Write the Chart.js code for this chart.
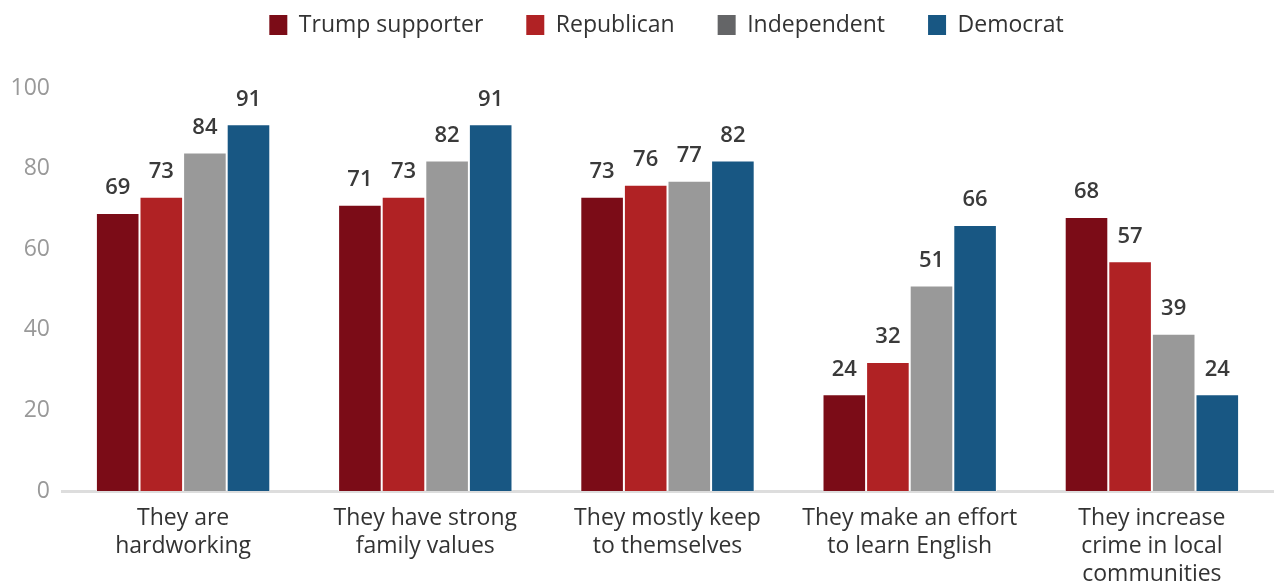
<!DOCTYPE html>
<html>
<head>
<meta charset="utf-8">
<script src="https://cdn.jsdelivr.net/npm/chart.js@4"></script>
<style>
  html, body { margin: 0; padding: 0; background: #fff; }
  #wrap { width: 1278px; height: 586px; }
</style>
</head>
<body>
<div id="wrap"><canvas id="chart"></canvas></div>
<script>
const categories = [
  ['They are', 'hardworking'],
  ['They have strong', 'family values'],
  ['They mostly keep', 'to themselves'],
  ['They make an effort', 'to learn English'],
  ['They increase', 'crime in local', 'communities']
];
const seriesNames = ['Trump supporter', 'Republican', 'Independent', 'Democrat'];
const trumpSupporter = [69, 71, 73, 24, 68];
const republican = [73, 73, 76, 32, 57];
const independent = [84, 82, 77, 51, 39];
const democrat = [91, 91, 82, 66, 24];
const yTicks = [0, 20, 40, 60, 80, 100];

const barColors = ['#7b0c17', '#b02224', '#999999', '#185783'];
const legendColors = ['#7b0c17', '#b02224', '#646567', '#185783'];

const FONT = "'Open Sans', 'Noto Sans', sans-serif";
const LEGEND_GAP = 43;

// value labels above each bar
const barValues = {
  id: 'barValues',
  afterDatasetsDraw(chart) {
    const ctx = chart.ctx;
    ctx.save();
    ctx.font = '600 22px ' + FONT;
    ctx.fillStyle = '#3a3a3a';
    ctx.textAlign = 'center';
    ctx.textBaseline = 'middle';
    chart.data.datasets.forEach((ds, i) => {
      chart.getDatasetMeta(i).data.forEach((bar, j) => {
        ctx.fillText(ds.data[j], bar.x, bar.y - 25);
      });
    });
    ctx.restore();
  }
};

// legend row sits near the top edge, a bit right of centre
const legendPlace = {
  id: 'legendPlace',
  afterLayout(chart) {
    const lg = chart.legend;
    const h = lg.bottom - lg.top;
    lg.top = 25 - LEGEND_GAP - 11.5;
    lg.bottom = lg.top + h;
    lg.left += 30;
    lg.right += 30;
  }
};

const allSeries = [trumpSupporter, republican, independent, democrat];

new Chart(document.getElementById('chart'), {
  type: 'bar',
  data: {
    labels: categories,
    datasets: allSeries.map((values, i) => ({
      label: seriesNames[i],
      data: values,
      backgroundColor: barColors[i],
      borderColor: '#ffffff',
      borderWidth: 1,
      borderSkipped: 'bottom',
      categoryPercentage: 0.72,
      barPercentage: 1
    }))
  },
  options: {
    responsive: true,
    maintainAspectRatio: false,
    animation: false,
    layout: { padding: { top: 12, right: 5, left: 0, bottom: 0 } },
    plugins: {
      tooltip: { enabled: false },
      legend: {
        position: 'top',
        labels: {
          color: '#333333',
          font: { family: FONT, size: 23 },
          boxWidth: 18,
          boxHeight: 20,
          padding: LEGEND_GAP,
          generateLabels(chart) {
            return seriesNames.map((name, i) => ({
              text: name,
              fillStyle: legendColors[i],
              strokeStyle: legendColors[i],
              lineWidth: 0,
              fontColor: '#333333',
              datasetIndex: i,
              hidden: false
            }));
          }
        }
      }
    },
    scales: {
      x: {
        grid: { display: false, drawTicks: false },
        border: { display: true, color: '#dddddd', width: 3 },
        ticks: {
          color: '#333333',
          font: { family: FONT, size: 23, lineHeight: 1.22 },
          padding: 13,
          maxRotation: 0,
          autoSkip: false
        },
        afterFit(scale) { scale.height = 95; }
      },
      y: {
        min: 0,
        max: 100,
        grid: { display: false, drawTicks: false },
        border: { display: false },
        afterBuildTicks(scale) { scale.ticks = yTicks.map(v => ({ value: v })); },
        ticks: {
          color: '#999999',
          font: { family: FONT, size: 23 },
          padding: 12
        },
        afterFit(scale) { scale.width = 62; }
      }
    }
  },
  plugins: [barValues, legendPlace]
});
</script>
</body>
</html>
